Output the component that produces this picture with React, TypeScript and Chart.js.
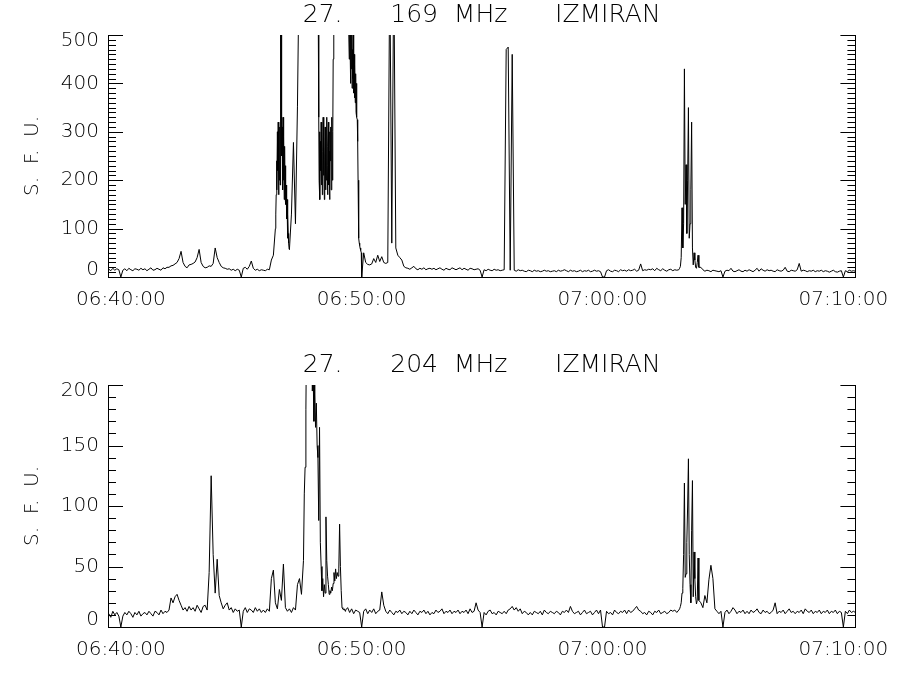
import React, { useEffect, useRef } from "react";
import { Chart, registerables } from "chart.js";

Chart.register(...registerables);

// Time axis: seconds relative to 06:40:00
const X_MIN_S = -32;
const X_MAX_S = 1830;
const TIME_TICKS_S = [0, 600, 1200, 1800];
const TIME_LABELS = ["06:40:00", "06:50:00", "07:00:00", "07:10:00"];

// Coarse series: one sample every 5 s starting 06:39:30 (null = covered by a fine segment)
const COARSE_START_S = -30;
const COARSE_STEP_S = 5;

const TITLE_169 = "27.      169  MHz      IZMIRAN";
const TITLE_204 = "27.      204  MHz      IZMIRAN";
const Y_TITLE = "S.  F.  U.";

const Y_MAX_169 = 500;
const Y_MAJOR_169 = 100;
const Y_MAX_204 = 200;
const Y_MAJOR_204 = 50;
const Y_MINOR = 10;

const _ = null;

// 169 MHz flux (s.f.u.), rows = one minute each
const FLUX_169 = [
  16, 13, 18, 14, 17, 15,
  0, 14, 17, 13, 18, 15, 13, 17, 16, 14, 18, 15, // 06:40
  17, 13, 16, 19, 14, 15, 18, 16, 14, 19, 17, 20,
  20, 23, 24, 27, 30, 38, 53, 30, 22, 19, 25, 26,
  28, 31, 40, 57, 30, 22, 19, 20, 23, 22, 28, 60,
  40, 30, 22, 19, 18, 16, 17, 14, 16, 13, 16, 14,
  0, 18, 20, 16, 22, 33, 18, 14, 16, 13, 15, 14, // 06:45
  13, 16, 15, 35, 45, _, _, _, _, _, _, _,
  _, 130, 278, 110, 353, 700, 700, 700, 700, 700, 700, 700,
  700, 700, _, _, _, _, _, _, _, _, _, _,
  700, 700, 700, 700, 700, _, _, _, _, _, _, _,
  _, 50, 30, 26, 25, 27, 38, 30, 45, 32, 42, 30, // 06:50
  28, 30, 650, 70, 650, 60, 45, 40, 35, 22, 19, 18,
  16, 19, 22, 17, 15, 18, 16, 19, 15, 17, 18, 16,
  18, 15, 17, 19, 16, 14, 18, 16, 15, 19, 17, 15,
  17, 19, 15, 18, 16, 14, 18, 17, 15, 16, 17, 14,
  0, 15, 13, 16, 14, 13, 16, 14, 15, 13, 14, 15, // 06:55
  470, 475, 14, 460, 14, 12, 15, 13, 14, 12, 11, 14,
  13, 11, 14, 12, 13, 11, 12, 14, 12, 13, 11, 12,
  13, 11, 14, 12, 13, 15, 13, 11, 14, 12, 13, 11,
  12, 14, 11, 13, 12, 14, 11, 12, 14, 12, 13, 11,
  0, 0, 13, 15, 12, 11, 14, 13, 11, 15, 13, 14, // 07:00
  12, 15, 13, 14, 16, 12, 14, 27, 13, 15, 14, 16,
  15, 17, 13, 18, 15, 13, 17, 14, 12, 15, 16, 13,
  15, 14, _, _, _, _, _, _, _, _, _, _,
  _, 20, 15, 12, 14, 13, 11, 14, 13, 12, 11, 13,
  0, 12, 14, 13, 18, 12, 11, 13, 15, 12, 11, 14, // 07:05
  12, 15, 13, 11, 14, 18, 12, 17, 14, 12, 15, 13,
  14, 12, 11, 15, 13, 12, 14, 20, 12, 11, 14, 13,
  12, 15, 28, 12, 14, 13, 11, 13, 12, 14, 11, 13,
  12, 14, 11, 13, 12, 10, 12, 14, 11, 10, 12, 13,
  0, 13, 11, 14, 12, 13, 12, // 07:10
];

// 169 MHz fine segments (burst detail)
const FINE_169_A_START_S = 385; // 1 s steps
const FINE_169_A = [
  100, 130, 170, 240, 180, 300, 220, 320, 170, 290, 200, 310, 190, 650, 280, 650, 250, 310,
  180, 330, 200, 290, 160, 270, 170, 230, 150, 190, 120, 160, 80, 130, 90, 70, 60, 57,
];
const FINE_169_B_START_S = 490; // 1 s steps
const FINE_169_B = [
  700, 700, 500, 330, 200, 300, 160, 280, 220, 320, 190, 300, 170, 260, 330, 210, 290, 160,
  250, 310, 180, 280, 200, 330, 230, 170, 270, 320, 190, 260, 160, 300, 240, 310, 180, 270,
  330, 200, 300, 450, 700, 700, 700, 700, 700, 700,
];
const FINE_169_C_START_S = 565; // 1 s steps
const FINE_169_C = [
  700, 700, 600, 520, 450, 700, 480, 400, 520, 430, 600, 390, 470, 410, 550, 380, 460, 370,
  440, 360, 420, 340, 400, 330, 325, 280, 200, 120, 80, 70, 65, 60, 58, 55, 50, 0,
];
const FINE_169_D_START_S = 1390; // 2 s steps
const FINE_169_D = [
  15, 18, 22, 40, 143, 60, 110, 430, 150, 232, 90, 200, 350, 80, 110, 180, 320, 60, 25, 50,
  35, 20, 18, 30, 45, 20,
];

// 204 MHz flux (s.f.u.)
const FLUX_204 = [
  11, 8, 13, 10, 12, 9,
  0, 9, 12, 10, 13, 11, 8, 12, 10, 13, 9, 11, // 06:40
  12, 10, 13, 11, 9, 13, 12, 10, 14, 11, 13, 12,
  14, 24, 20, 25, 27, 22, 18, 14, 16, 13, 17, 14,
  16, 13, 18, 15, 12, 17, 18, 14, 45, 125, 60, 28,
  56, 26, 20, 15, 18, 20, 14, 16, 12, 15, 13, 14,
  0, 13, 16, 12, 15, 14, 12, 16, 13, 15, 12, 14, // 06:45
  12, 15, 13, 40, 47, 20, 15, 31, 22, 52, 16, 13,
  15, 12, 16, 14, 35, 40, 27, _, _, _, _, _,
  _, _, _, _, _, _, _, _, _, _, _, _,
  _, _, _, _, 14, 16, 12, 15, 11, 14, 13, 12,
  0, 13, 15, 11, 14, 12, 15, 11, 13, 14, 29, 18, // 06:50
  13, 11, 14, 12, 10, 13, 12, 14, 11, 13, 12, 10,
  13, 11, 14, 12, 10, 13, 12, 14, 11, 13, 10, 12,
  11, 14, 12, 13, 15, 11, 13, 12, 14, 11, 13, 12,
  14, 11, 13, 12, 14, 11, 15, 12, 13, 20, 14, 12,
  0, 12, 10, 13, 14, 11, 12, 10, 13, 12, 11, 13, // 06:55
  11, 14, 15, 17, 14, 16, 13, 15, 11, 13, 12, 10,
  12, 10, 13, 12, 11, 13, 10, 14, 12, 11, 13, 12,
  11, 13, 12, 10, 13, 12, 14, 12, 17, 13, 11, 12,
  13, 10, 12, 14, 11, 12, 13, 10, 12, 14, 11, 14,
  0, 0, 13, 11, 12, 10, 14, 12, 11, 13, 12, 14, // 07:00
  11, 14, 12, 13, 15, 17, 14, 13, 11, 12, 10, 13,
  12, 10, 13, 12, 14, 11, 12, 13, 11, 12, 14, 13,
  14, 12, _, _, _, _, _, _, _, _, _, _,
  _, 20, 16, 26, 20, 39, 51, 40, 15, 13, 11, 13,
  0, 12, 14, 11, 13, 16, 14, 11, 13, 12, 14, 11, // 07:05
  13, 11, 14, 12, 13, 15, 12, 11, 14, 12, 13, 11,
  12, 14, 20, 11, 13, 12, 14, 11, 13, 15, 12, 13,
  11, 13, 12, 14, 11, 15, 13, 12, 14, 11, 13, 12,
  14, 11, 13, 12, 14, 11, 13, 12, 14, 11, 13, 12,
  0, 13, 11, 14, 12, 13, 12, // 07:10
];

// 204 MHz fine segments (2 s steps)
const FINE_204_E_START_S = 455;
const FINE_204_E = [
  55, 110, 132, 180, 260, 260, 260, 260, 260, 260, 240, 195, 210, 170, 200, 165, 185, 150,
  140, 88, 165, 70, 50, 30, 40, 25, 35, 28, 91, 55, 42, 35, 27, 30, 28, 33, 30, 36, 45, 38,
  48, 40, 45, 42, 48, 85, 50, 30, 16, 15, 14, 15, 13,
];
const FINE_204_F_START_S = 1390;
const FINE_204_F = [
  14, 15, 17, 20, 28, 32, 60, 119, 41, 44, 70, 100, 139, 60, 35, 20, 80, 121, 25, 62, 40, 25,
  19, 22, 57, 22,
];

type Segment = { start: number; step: number; values: number[] };

const SEGMENTS_169: Segment[] = [
  { start: FINE_169_A_START_S, step: 1, values: FINE_169_A },
  { start: FINE_169_B_START_S, step: 1, values: FINE_169_B },
  { start: FINE_169_C_START_S, step: 1, values: FINE_169_C },
  { start: FINE_169_D_START_S, step: 2, values: FINE_169_D },
];
const SEGMENTS_204: Segment[] = [
  { start: FINE_204_E_START_S, step: 2, values: FINE_204_E },
  { start: FINE_204_F_START_S, step: 2, values: FINE_204_F },
];

function buildPoints(coarse: (number | null)[], segments: Segment[]) {
  const pts: { x: number; y: number }[] = [];
  coarse.forEach((v, i) => {
    if (v !== null) pts.push({ x: COARSE_START_S + i * COARSE_STEP_S, y: v });
  });
  for (const s of segments) {
    s.values.forEach((v, i) => pts.push({ x: s.start + i * s.step, y: v }));
  }
  pts.sort((a, b) => a.x - b.x);
  return pts;
}

const FONT_FAMILY = '"DejaVu Sans", sans-serif';
const FONT_WEIGHT = "200";

// Draws IDL-style inward ticks on left and right y axes plus clamped labels
const idlAxesPlugin = {
  id: "idlAxes",
  afterDraw(chart: any, _args: any, opts: any) {
    const { ctx, chartArea } = chart;
    const { left, right, top, bottom } = chartArea;
    const ys = chart.scales.y;
    const minor = opts.minor;
    const major = opts.major;
    ctx.save();
    ctx.strokeStyle = "#000";
    ctx.lineWidth = 1;
    ctx.beginPath();
    const n = Math.round((ys.max - ys.min) / minor);
    for (let i = 0; i <= n; i++) {
      const v = ys.min + i * minor;
      const p = Math.round(ys.getPixelForValue(v)) + 0.5;
      const len = Math.abs(v % major) < 1e-9 ? 15 : 8;
      ctx.moveTo(left, p);
      ctx.lineTo(left + len, p);
      ctx.moveTo(right, p);
      ctx.lineTo(right - len, p);
    }
    ctx.stroke();
    ctx.fillStyle = "#000";
    ctx.font = `${FONT_WEIGHT} 20px ${FONT_FAMILY}`;
    ctx.textAlign = "right";
    ctx.textBaseline = "middle";
    for (const t of ys.ticks) {
      const p = ys.getPixelForValue(t.value);
      const yy = Math.min(bottom - 7, Math.max(top + 6, p));
      ctx.fillText(String(t.value), left - 9, yy);
    }
    ctx.restore();
  },
};

type PanelProps = { title: string; coarse: (number | null)[]; segments: Segment[]; yMax: number; major: number };

function Panel({ title, coarse, segments, yMax, major }: PanelProps) {
  const ref = useRef<HTMLCanvasElement>(null);
  useEffect(() => {
    const points = buildPoints(coarse, segments);
    const border = { display: true, color: "#000", width: 1 };
    const chart = new Chart(ref.current as HTMLCanvasElement, {
      type: "line",
      data: {
        datasets: [
          {
            data: points,
            borderColor: "#000",
            borderWidth: 1,
            pointRadius: 0,
            tension: 0,
            fill: false,
          },
        ],
      },
      options: {
        animation: false,
        responsive: true,
        maintainAspectRatio: false,
        layout: { padding: 0 },
        plugins: {
          legend: { display: false },
          tooltip: { enabled: false },
          title: {
            display: true,
            fullSize: false,
            text: title,
            color: "#000",
            font: { family: FONT_FAMILY, size: 25, weight: FONT_WEIGHT },
            padding: { top: 0, bottom: 5 },
          },
          idlAxes: { minor: Y_MINOR, major },
        } as any,
        scales: {
          x: {
            type: "linear",
            min: X_MIN_S,
            max: X_MAX_S,
            grid: { display: false, drawTicks: false },
            border,
            ticks: {
              color: "#000",
              font: { family: FONT_FAMILY, size: 20, weight: FONT_WEIGHT },
              padding: 11,
              maxRotation: 0,
              autoSkip: false,
              callback: (value: any) => {
                const idx = TIME_TICKS_S.indexOf(Number(value));
                return idx >= 0 ? TIME_LABELS[idx] : "";
              },
            },
            afterBuildTicks: (s: any) => {
              s.ticks = TIME_TICKS_S.map((v) => ({ value: v }));
            },
            afterFit: (s: any) => {
              s.height = 73;
            },
          },
          y: {
            type: "linear",
            position: "left",
            min: 0,
            max: yMax,
            grid: { display: false, drawTicks: false },
            border,
            ticks: { display: false, stepSize: major },
            title: {
              display: true,
              text: Y_TITLE,
              color: "#000",
              font: { family: FONT_FAMILY, size: 20, weight: FONT_WEIGHT },
              padding: { top: 21, bottom: 0 },
            },
            afterFit: (s: any) => {
              s.width = 108;
            },
          },
          y2: {
            type: "linear",
            position: "right",
            min: 0,
            max: yMax,
            grid: { display: false, drawTicks: false },
            border,
            ticks: { display: false },
            afterFit: (s: any) => {
              s.width = 40;
            },
          },
        },
      } as any,
      plugins: [idlAxesPlugin],
    });
    return () => chart.destroy();
  }, [title, coarse, segments, yMax, major]);
  return (
    <div style={{ position: "relative", width: 900, height: 350 }}>
      <canvas ref={ref} />
    </div>
  );
}

export default function App() {
  return (
    <div style={{ position: "absolute", left: 0, top: 0, width: 900, height: 700, background: "#fff" }}>
      <Panel title={TITLE_169} coarse={FLUX_169} segments={SEGMENTS_169} yMax={Y_MAX_169} major={Y_MAJOR_169} />
      <Panel title={TITLE_204} coarse={FLUX_204} segments={SEGMENTS_204} yMax={Y_MAX_204} major={Y_MAJOR_204} />
    </div>
  );
}
